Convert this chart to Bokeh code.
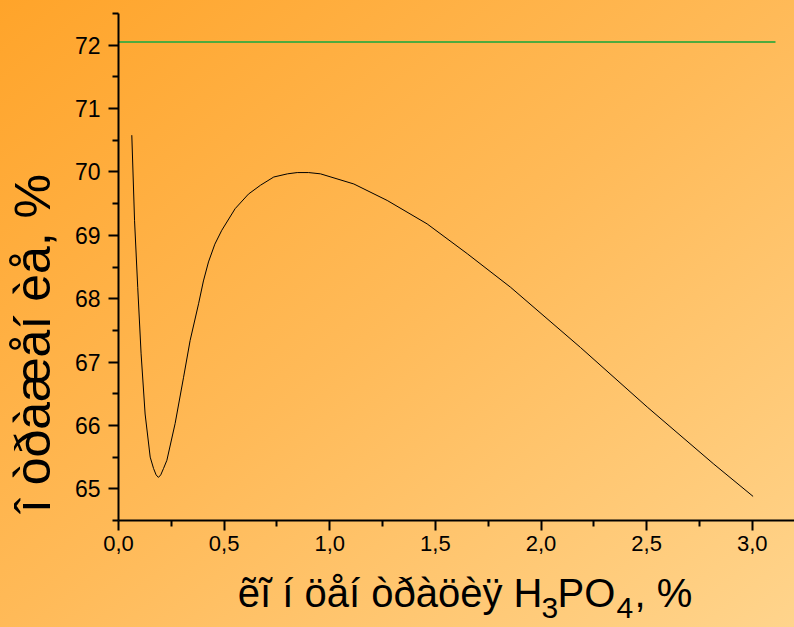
from math import pi
from bokeh.plotting import figure
from bokeh.models import FixedTicker, CustomJSTickFormatter, Label, Range1d, LinearAxis
from bokeh.embed import file_html
from bokeh.resources import INLINE

# ---- data ----
conc = [0.063, 0.076, 0.091, 0.107, 0.126, 0.150, 0.166, 0.178, 0.189, 0.200,
        0.213, 0.229, 0.268, 0.308, 0.339, 0.379, 0.402, 0.426, 0.456, 0.489,
        0.552, 0.615, 0.672, 0.735, 0.800, 0.846, 0.900, 0.956, 1.114, 1.272,
        1.461, 1.651, 1.856, 2.187, 2.503, 2.818, 3.004]
refl = [70.58, 69.23, 68.18, 67.13, 66.18, 65.50, 65.32, 65.22, 65.18, 65.22,
        65.32, 65.45, 66.03, 66.76, 67.34, 67.92, 68.28, 68.58, 68.86, 69.08,
        69.42, 69.65, 69.79, 69.92, 69.97, 69.99, 69.99, 69.97, 69.81, 69.55,
        69.18, 68.71, 68.18, 67.23, 66.29, 65.39, 64.88]
ref_x = [0.0, 3.11]
ref_y = [72.05, 72.05]

x_major = [0.0, 0.5, 1.0, 1.5, 2.0, 2.5, 3.0]
x_minor = [0.25, 0.75, 1.25, 1.75, 2.25, 2.75]
y_major = [65, 66, 67, 68, 69, 70, 71, 72]
y_minor = [64.5, 65.5, 66.5, 67.5, 68.5, 69.5, 70.5, 71.5, 72.5]

x_label_main = "ẽĩ í öåí òðàöèÿ H"
x_label_sub1 = "3"
x_label_mid = "PO"
x_label_sub2 = "4"
x_label_end = ", %"
y_label = "î òðàæåí èå, %"

# ---- layout (pixel frame of the drawn axes) ----
W, H = 794, 627
AL, AR, AT, AB = 118, 794, 13, 520      # axes box in pixels
X0, X1 = 0.0, 3.2                       # axis extents in data
Y0, Y1 = 64.5, 72.5
FONT = "Liberation Sans"

sx = (AR - AL) / (X1 - X0)
sy = (AB - AT) / (Y1 - Y0)


def dx(px):
    return X0 + (px - AL) / sx


def dy(py):
    return Y0 + (AB - py) / sy


p = figure(width=W, height=H, output_backend="svg", toolbar_location=None,
           x_range=Range1d(dx(0), dx(W)), y_range=Range1d(dy(H), dy(0)),
           x_axis_location=None, y_axis_location=None,
           min_border=0)
p.background_fill_color = None
p.border_fill_color = None
p.outline_line_color = None
p.styles = {"background": "linear-gradient(to bottom right, #FFA42A 0%, #FFBA58 50%, #FFD48C 100%)"}
p.grid.visible = False

xax = LinearAxis(fixed_location=Y0, bounds=(X0, X1),
                 ticker=FixedTicker(ticks=x_major, minor_ticks=x_minor),
                 formatter=CustomJSTickFormatter(code="return tick.toFixed(1).replace('.', ',');"))
yax = LinearAxis(fixed_location=X0, bounds=(Y0, Y1),
                 ticker=FixedTicker(ticks=y_major, minor_ticks=y_minor))
p.add_layout(xax, "below")
p.add_layout(yax, "left")

for ax in (xax, yax):
    ax.axis_line_width = 2
    ax.axis_line_color = "black"
    ax.major_tick_line_width = 2
    ax.minor_tick_line_width = 2
    ax.major_tick_in = 0
    ax.minor_tick_in = 0
    ax.major_tick_out = 10
    ax.minor_tick_out = 6
    ax.major_label_text_font = FONT
    ax.major_label_text_color = "black"
xax.major_label_text_font_size = "22px"
xax.major_label_standoff = 5
yax.major_label_text_font_size = "23px"
yax.major_label_standoff = 8

p.line(ref_x, ref_y, line_color="#4FAA3E", line_width=2)
p.line(conc, refl, line_color="black", line_width=1)

# x axis label with subscripts
main_size = "40px"
sub_size = "30px"
common = dict(text_baseline="alphabetic", text_font=FONT, text_color="black")
p.add_layout(Label(x=dx(542), y=dy(592), text=x_label_main, text_align="right",
                   text_font_size=main_size, **common))
p.add_layout(Label(x=dx(541), y=dy(607), text=x_label_sub1, text_align="left",
                   text_font_size=sub_size, **common))
p.add_layout(Label(x=dx(557), y=dy(592), text=x_label_mid, text_align="left",
                   text_font_size=main_size, **common))
p.add_layout(Label(x=dx(616), y=dy(607), text=x_label_sub2, text_align="left",
                   text_font_size=sub_size, **common))
p.add_layout(Label(x=dx(634), y=dy(592), text=x_label_end, text_align="left",
                   text_font_size=main_size, **common))

# y axis label
p.add_layout(Label(x=dx(32), y=dy(343), text=y_label, angle=pi / 2, text_align="center",
                   text_font_size="50px", **common))

open("out.html", "w").write(file_html(p, INLINE))
